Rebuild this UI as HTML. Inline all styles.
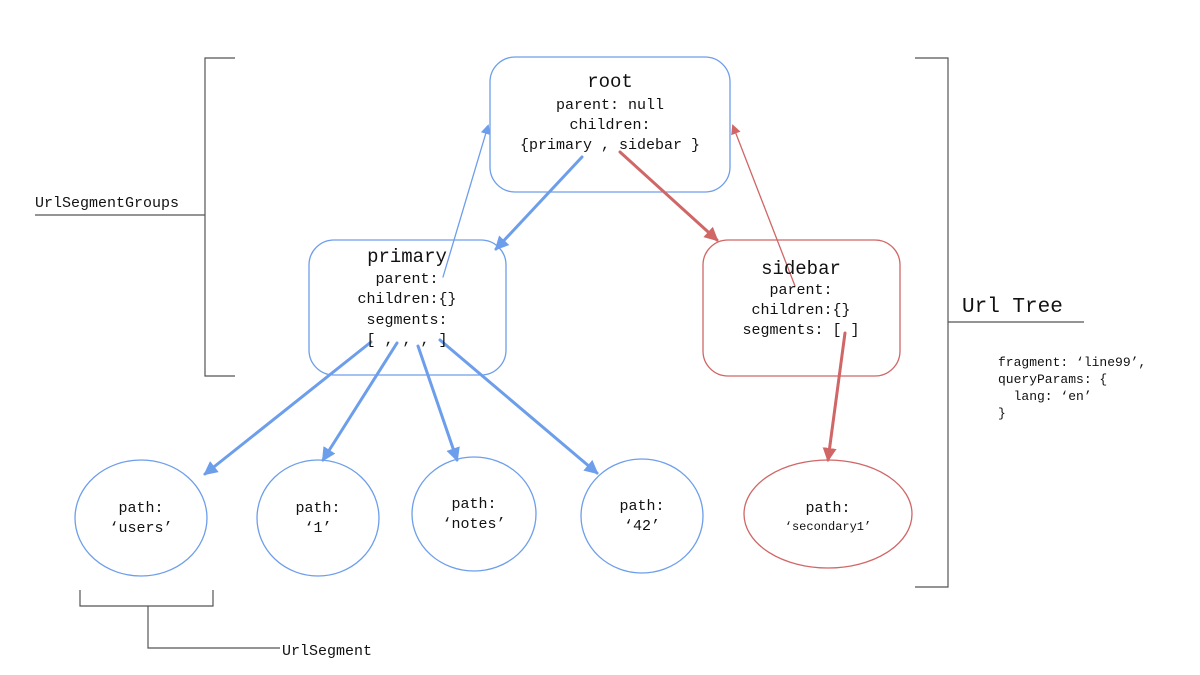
<!DOCTYPE html>
<html><head><meta charset="utf-8"><style>
html,body{margin:0;padding:0;background:#fff;}
svg text{font-family:"Liberation Mono","DejaVu Sans Mono",monospace;fill:#111;}
</style></head><body>
<svg width="1200" height="670" viewBox="0 0 1200 670" xmlns="http://www.w3.org/2000/svg">
<defs>
<marker id="ab" markerWidth="10" markerHeight="10" refX="8" refY="5" orient="auto" markerUnits="userSpaceOnUse"><path d="M0,0 L10,5 L0,10 z" fill="#6d9eeb"/></marker>
<marker id="ab2" markerWidth="14" markerHeight="14" refX="12" refY="7" orient="auto" markerUnits="userSpaceOnUse"><path d="M0,0 L14,7 L0,14 z" fill="#6d9eeb"/></marker>
<marker id="ar" markerWidth="10" markerHeight="10" refX="8" refY="5" orient="auto" markerUnits="userSpaceOnUse"><path d="M0,0 L10,5 L0,10 z" fill="#d06666"/></marker>
<marker id="ar2" markerWidth="14" markerHeight="14" refX="12" refY="7" orient="auto" markerUnits="userSpaceOnUse"><path d="M0,0 L14,7 L0,14 z" fill="#d06666"/></marker>
</defs>
<g fill="none" stroke="#6d9eeb" stroke-width="1.3">
<rect x="490" y="57" width="240" height="135" rx="25"/>
<rect x="309" y="240" width="197" height="135" rx="25"/>
<ellipse cx="141" cy="518" rx="66" ry="58"/>
<ellipse cx="318" cy="518" rx="61" ry="58"/>
<ellipse cx="474" cy="514" rx="62" ry="57"/>
<ellipse cx="642" cy="516" rx="61" ry="57"/>
</g>
<g fill="none" stroke="#d06666" stroke-width="1.3">
<rect x="703" y="240" width="197" height="136" rx="25"/>
<ellipse cx="828" cy="514" rx="84" ry="54"/>
</g>
<g fill="none" stroke="#555" stroke-width="1.2">
<path d="M235,58 H205 V376 H235"/>
<path d="M35,215 H205"/>
<path d="M915,58 H948 V587 H915"/>
<path d="M948,322 H1084"/>
<path d="M80,590 V606 H213 V590"/>
<path d="M148,606 V648 H280"/>
</g>
<g stroke-linecap="round">
<line x1="582" y1="157" x2="496" y2="249" stroke="#6d9eeb" stroke-width="3" marker-end="url(#ab2)"/>
<line x1="443" y1="277" x2="488" y2="126" stroke="#6d9eeb" stroke-width="1.3" marker-end="url(#ab)"/>
<line x1="620" y1="152" x2="717" y2="240" stroke="#d06666" stroke-width="3" marker-end="url(#ar2)"/>
<line x1="795" y1="286" x2="733" y2="126" stroke="#d06666" stroke-width="1.3" marker-end="url(#ar)"/>
<line x1="371" y1="342" x2="205" y2="474" stroke="#6d9eeb" stroke-width="3" marker-end="url(#ab2)"/>
<line x1="397" y1="343" x2="323" y2="460" stroke="#6d9eeb" stroke-width="3" marker-end="url(#ab2)"/>
<line x1="418" y1="346" x2="457" y2="460" stroke="#6d9eeb" stroke-width="3" marker-end="url(#ab2)"/>
<line x1="440" y1="340" x2="597" y2="473" stroke="#6d9eeb" stroke-width="3" marker-end="url(#ab2)"/>
<line x1="845" y1="333" x2="828" y2="460" stroke="#d06666" stroke-width="3" marker-end="url(#ar2)"/>
</g>
<g text-anchor="middle" font-size="15">
<text x="610" y="87" font-size="19">root</text>
<text x="610" y="109">parent: null</text>
<text x="610" y="129">children:</text>
<text x="610" y="149">{primary , sidebar }</text>
<text x="407" y="262" font-size="19">primary</text>
<text x="407" y="283">parent:</text>
<text x="407" y="303">children:{}</text>
<text x="407" y="324">segments:</text>
<text x="407" y="344">[ , , , ]</text>
<text x="801" y="274" font-size="19">sidebar</text>
<text x="801" y="294">parent:</text>
<text x="801" y="314">children:{}</text>
<text x="801" y="334">segments: [ ]</text>
<text x="141" y="512">path:</text>
<text x="141" y="532">‘users’</text>
<text x="318" y="512">path:</text>
<text x="318" y="532">‘1’</text>
<text x="474" y="508">path:</text>
<text x="474" y="528">‘notes’</text>
<text x="642" y="510">path:</text>
<text x="642" y="530">‘42’</text>
<text x="828" y="512">path:</text>
<text x="828" y="530" font-size="12">‘secondary1’</text>
</g>
<g font-size="15">
<text x="35" y="207">UrlSegmentGroups</text>
<text x="282" y="655">UrlSegment</text>
<text x="962" y="312" font-size="21">Url Tree</text>
</g>
<g font-size="13">
<text x="998" y="366">fragment: ‘line99’,</text>
<text x="998" y="383">queryParams: {</text>
<text x="998" y="400" xml:space="preserve" style="white-space:pre">  lang: ‘en’</text>
<text x="998" y="417">}</text>
</g>
</svg>
</body></html>
